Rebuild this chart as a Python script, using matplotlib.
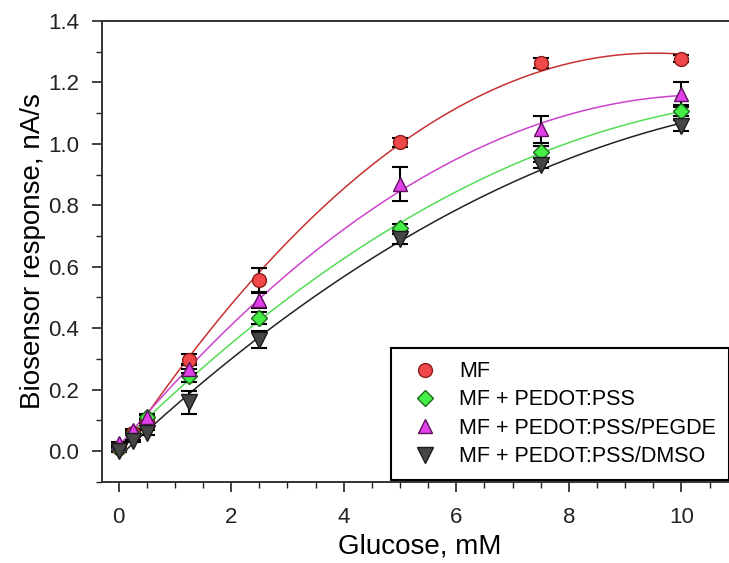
import numpy as np
import matplotlib.pyplot as plt
from matplotlib.ticker import MultipleLocator

plt.rcParams["font.family"] = ["Liberation Sans", "DejaVu Sans"]

# Glucose concentrations (mM)
glucose = [0, 0.25, 0.5, 1.25, 2.5, 5, 7.5, 10]

# Biosensor responses (nA/s) and standard deviations
mf = [0.01, 0.06, 0.10, 0.297, 0.556, 1.005, 1.263, 1.277]
mf_err = [0.004, 0.004, 0.008, 0.018, 0.04, 0.015, 0.015, 0.012]

pedot = [0.005, 0.055, 0.11, 0.245, 0.433, 0.727, 0.973, 1.106]
pedot_err = [0.004, 0.004, 0.008, 0.022, 0.02, 0.012, 0.02, 0.015]

pegde = [0.025, 0.067, 0.112, 0.268, 0.49, 0.868, 1.047, 1.163]
pegde_err = [0.004, 0.004, 0.008, 0.015, 0.025, 0.055, 0.045, 0.037]

dmso = [0.0, 0.032, 0.06, 0.158, 0.362, 0.69, 0.93, 1.058]
dmso_err = [0.004, 0.004, 0.008, 0.037, 0.028, 0.015, 0.01, 0.018]

labels = ["MF", "MF + PEDOT:PSS", "MF + PEDOT:PSS/PEGDE", "MF + PEDOT:PSS/DMSO"]

series = [
    (mf, mf_err, "o", "#f04848", "#8a1c1c", "#c83232"),
    (pedot, pedot_err, "D", "#44ee44", "#1d6b1d", "#55dd55"),
    (pegde, pegde_err, "^", "#e040e8", "#5e105e", "#cc44cc"),
    (dmso, dmso_err, "v", "#454545", "#1a1a1a", "#222222"),
]
msizes = [10, 8.5, 10.5, 11]

fig = plt.figure(figsize=(7.29, 5.63), dpi=100)
ax = fig.add_axes([101.7 / 729, 81.3 / 563, 636 / 729, 460.8 / 563])

x = np.asarray(glucose)
xfit = np.linspace(0, 10, 300)
handles = []
for (y, err, mk, fc, ec, lc), ms, lab in zip(series, msizes, labels):
    y = np.asarray(y)
    coef = np.polyfit(x, y, 2)
    ax.plot(xfit, np.polyval(coef, xfit), color=lc, lw=1.1, zorder=2)
    h, = ax.plot(x, y, linestyle="none", marker=mk, ms=ms, mfc=fc, mec=ec,
                 mew=1.0, zorder=3, label=lab)
    ax.errorbar(x, y, yerr=err, fmt="none", ecolor="black", elinewidth=1.5,
                capsize=5.5, capthick=1.5, zorder=2.5)
    handles.append(h)

ax.set_xlim(-0.3, 11)
ax.set_ylim(-0.1, 1.4)
ax.xaxis.set_major_locator(MultipleLocator(2))
ax.xaxis.set_minor_locator(MultipleLocator(0.5))
ax.yaxis.set_minor_locator(MultipleLocator(0.1))
yt = np.arange(0, 1.41, 0.2)
ax.set_yticks(yt)
ax.set_yticklabels([f"{v:.1f}" for v in yt])

for side in ["left", "bottom", "top"]:
    ax.spines[side].set_linewidth(1.4)
    ax.spines[side].set_color("#333333")
ax.spines["right"].set_visible(False)

ax.tick_params(which="major", direction="out", length=7, width=1.2,
               labelsize=16, colors="#222222")
ax.tick_params(axis="y", which="major", pad=9)
ax.tick_params(axis="x", which="major", pad=11)
ax.tick_params(which="minor", direction="out", length=4, width=1.0,
               colors="#222222")
ax.tick_params(top=False, right=False)

ax.set_xlabel("Glucose, mM", fontsize=20, labelpad=4)
ax.set_ylabel("Biosensor response, nA/s", fontsize=20, labelpad=1.5)

leg = fig.legend(handles=handles, loc="lower left",
                 bbox_to_anchor=(391 / 729, 83 / 563), fontsize=15.5,
                 frameon=True, fancybox=False, framealpha=1,
                 edgecolor="black", borderpad=0.6, handletextpad=0.55,
                 handlelength=2.0, labelspacing=0.34, borderaxespad=0)
leg.get_frame().set_linewidth(1.5)

fig.savefig("out.png", dpi=100)
